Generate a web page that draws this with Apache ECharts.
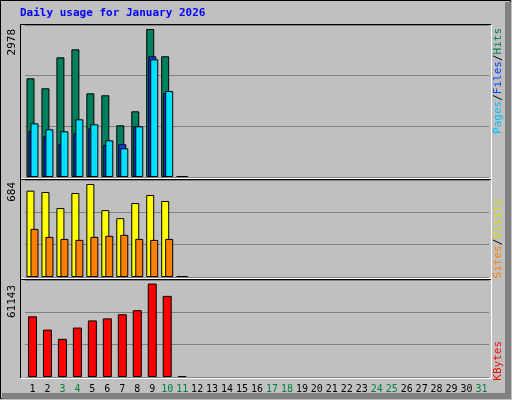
<!DOCTYPE html>
<html><head><meta charset="utf-8">
<script src="https://cdn.jsdelivr.net/npm/echarts@6/dist/echarts.min.js"></script>
<style>html,body{margin:0;padding:0;background:#c0c0c0}#c{width:512px;height:400px}</style>
</head><body><div id="c"></div>
<script>
const days = Array.from({ length: 31 }, (_, i) => String(i + 1));
const weekend = ['3', '4', '10', '11', '17', '18', '24', '25', '31'];

// values (days 12-31 have no data yet)
const hits = [1986, 1785, 2408, 2569, 1684, 1644, 1040, 1322, 2978, 2429, 0];
const files = [925, 825, 658, 879, 980, 644, 658, 1020, 2429, 1690, 0];
const pages = [1080, 960, 919, 1161, 1060, 738, 577, 1020, 2368, 1730, 0];
const visits = [635, 625, 507, 618, 684, 492, 433, 544, 603, 559, 0];
const sites = [354, 295, 280, 273, 295, 303, 310, 280, 273, 280, 0];
const kbytes = [39714, 31007, 24980, 32346, 37034, 38374, 41052, 43731, 61143, 53107, 0];

const maxHits = 2978, maxVisits = 684, maxKb = 61143;

const chart = echarts.init(document.getElementById('c'));
const FONT = 'DejaVu Sans Mono';

const grids = [
    { left: 25, right: 23, top: 25, height: 152 },
    { left: 25, right: 23, top: 180, height: 97 },
    { left: 25, right: 23, top: 280, height: 97 },
];

function xAx(i, show) {
    return {
        type: 'category', gridIndex: i, data: days,
        axisLine: { show: false }, axisTick: { show: false },
        axisLabel: {
            show: show, margin: 7, interval: 0, fontFamily: FONT, fontSize: 10,
            formatter: (d) => (weekend.includes(d) ? '{w|' + d + '}' : d),
            color: '#000', rich: { w: { color: '#008040', fontFamily: FONT, fontSize: 10 } },
        },
    };
}
function yAx(i, max) {
    return {
        type: 'value', gridIndex: i, min: 0, max: max, interval: max / 3,
        axisLabel: { show: false }, axisLine: { show: false }, axisTick: { show: false },
        splitLine: { lineStyle: { color: '#808080', width: 1 } },
    };
}
function pad(arr) {
    return arr.concat(new Array(31 - arr.length).fill(null));
}
function bar(name, data, i, color, width, gap) {
    return {
        name: name, type: 'bar', xAxisIndex: i, yAxisIndex: i, data: pad(data),
        barWidth: width, barGap: gap, barMinHeight: 1, animation: false,
        itemStyle: { color: color, borderColor: '#000', borderWidth: 1 },
    };
}

function sideLabel(top, parts) {
    return {
        type: 'text', left: 493, top: top, rotation: Math.PI / 2,
        style: {
            text: parts.map((p) => '{' + p[1] + '|' + p[0] + '}').join(''),
            rich: Object.fromEntries(parts.map((p) => [p[1], { fill: p[2], fontFamily: FONT, fontSize: 11 }])),
        },
    };
}

chart.setOption({
    backgroundColor: '#c0c0c0',
    grid: grids,
    xAxis: [xAx(0, false), xAx(1, false), xAx(2, true)],
    yAxis: [yAx(0, maxHits * 152 / 148), yAx(1, maxVisits * 97 / 93), yAx(2, maxKb * 95 / 91.5)],
    series: [
        bar('Hits', hits, 0, '#00805c', 8, '-75%'),
        bar('Files', files, 0, '#0040ff', 8, '-75%'),
        bar('Pages', pages, 0, '#00e0ff', 8, '-75%'),
        bar('Visits', visits, 1, '#ffff00', 8, '-50%'),
        bar('Sites', sites, 1, '#ff8000', 8, '-50%'),
        bar('KBytes', kbytes, 2, '#ff0000', 9, '0%'),
    ],
    graphic: [
        { type: 'rect', shape: { x: 0.5, y: 0.5, width: 510, height: 398 }, style: { fill: null, stroke: '#000' }, silent: true },
        { type: 'rect', shape: { x: 505, y: 2, width: 6, height: 397 }, style: { fill: '#808080' }, silent: true },
        { type: 'rect', shape: { x: 2, y: 393, width: 509, height: 6 }, style: { fill: '#808080' }, silent: true },
        { type: 'polyline', shape: { points: [[20.5, 378], [20.5, 24.5], [491.5, 24.5]] }, style: { stroke: '#000', fill: null }, silent: true },
        { type: 'polyline', shape: { points: [[20.5, 378.5], [491.5, 378.5], [491.5, 24.5]] }, style: { stroke: '#fff', fill: null }, silent: true },
        { type: 'line', shape: { x1: 21, y1: 178.5, x2: 491, y2: 178.5 }, style: { stroke: '#fff' }, silent: true },
        { type: 'line', shape: { x1: 21, y1: 179.5, x2: 491, y2: 179.5 }, style: { stroke: '#000' }, silent: true },
        { type: 'line', shape: { x1: 21, y1: 278.5, x2: 491, y2: 278.5 }, style: { stroke: '#fff' }, silent: true },
        { type: 'line', shape: { x1: 21, y1: 279.5, x2: 491, y2: 279.5 }, style: { stroke: '#000' }, silent: true },
        { type: 'text', left: 20, top: 8, style: { text: 'Daily usage for January 2026', fill: '#0000ff', fontFamily: FONT, fontSize: 11, fontWeight: 'bold' } },
        { type: 'text', left: 7, top: 29, rotation: Math.PI / 2, style: { text: String(maxHits), fill: '#000', fontFamily: FONT, fontSize: 11 } },
        { type: 'text', left: 7, top: 182, rotation: Math.PI / 2, style: { text: String(maxVisits), fill: '#000', fontFamily: FONT, fontSize: 11 } },
        { type: 'text', left: 7, top: 285, rotation: Math.PI / 2, style: { text: String(maxKb), fill: '#000', fontFamily: FONT, fontSize: 11 } },
        sideLabel(28, [['Pages', 'p', '#00c0ff'], ['/', 's', '#000'], ['Files', 'f', '#0040ff'], ['/', 't', '#000'], ['Hits', 'h', '#00805c']]),
        sideLabel(199, [['Sites', 'a', '#ff8000'], ['/', 's', '#000'], ['Visits', 'v', '#e0e000']]),
        sideLabel(341, [['KBytes', 'k', '#ff0000']]),
    ],
});
</script></body></html>
